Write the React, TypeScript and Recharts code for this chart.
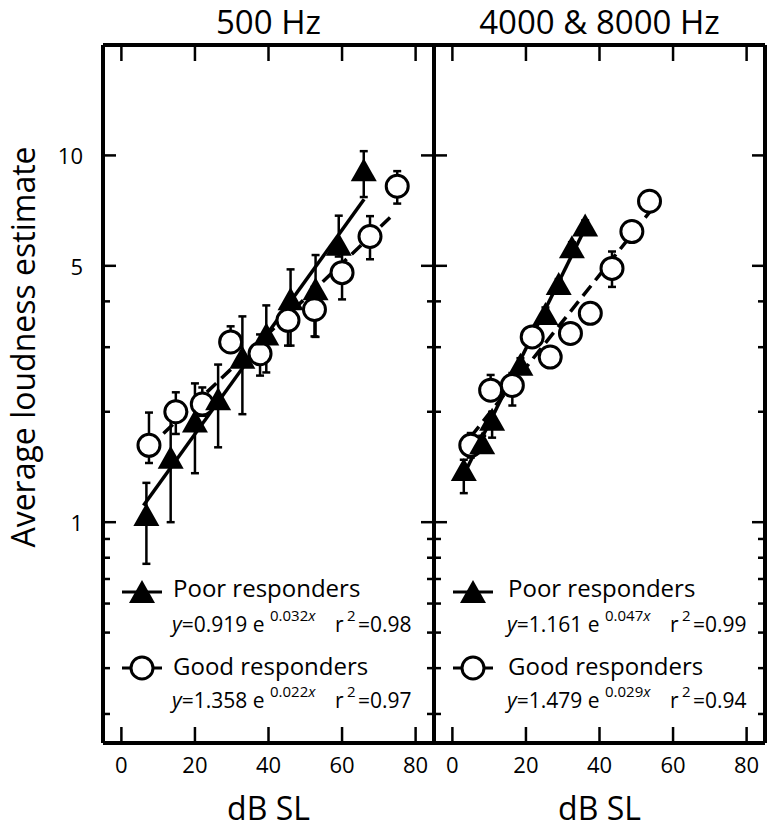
import React from 'react';
import { ComposedChart, ErrorBar, Legend, Line, Scatter, XAxis, YAxis } from 'recharts';

const FONT = "'Open Sans', 'Noto Sans', sans-serif";
const INK = '#000';

// axes
const X_TICKS = [0, 20, 40, 60, 80];
const Y_TICKS = [0.3, 0.4, 0.5, 0.6, 0.7, 0.8, 0.9, 1, 2, 3, 4, 5, 10];
const Y_LABELED = [1, 5, 10];

// 500 Hz — poor responders (filled triangles)
const poor500X = [6.8, 13.4, 20, 26.3, 32.9, 39.4, 46, 52.8, 59.1, 65.9];
const poor500Y = [1.04, 1.49, 1.87, 2.15, 2.79, 3.23, 4.03, 4.29, 5.67, 9.06];
const poor500Lo = [0.77, 1.0, 1.36, 1.6, 1.97, 2.56, 3.03, 3.2, 5.3, 7.7];
const poor500Hi = [1.28, 2.0, 2.39, 2.69, 3.64, 3.9, 4.89, 5.35, 6.85, 10.27];

// 500 Hz — good responders (open circles)
const good500X = [7.5, 14.8, 22, 29.7, 37.7, 45.3, 52.5, 60, 67.6, 75];
const good500Y = [1.62, 2.0, 2.1, 3.1, 2.88, 3.55, 3.8, 4.79, 6.01, 8.24];
const good500Lo = [1.45, 1.74, 1.95, 2.9, 2.51, 3.03, 3.21, 4.05, 5.21, 7.39];
const good500Hi = [1.99, 2.26, 2.33, 3.42, 3.25, 3.75, 4.38, 5.41, 6.83, 9.06];

// 500 Hz fitted lines (end points as drawn)
const fitPoor500X = [6, 66];
const fitPoor500Y = [1.11, 7.59];
const fitGood500X = [7.5, 74];
const fitGood500Y = [1.6, 6.91];

// 4000 & 8000 Hz — poor responders
const poorHighX = [3.1, 8.1, 10.8, 18.5, 25.3, 28.9, 32.5, 36.1];
const poorHighY = [1.38, 1.63, 1.89, 2.67, 3.67, 4.43, 5.58, 6.4];
const poorHighLo = [1.2, 1.55, 1.7, 2.55, 3.5, 4.25, 5.35, 6.15];
const poorHighHi = [1.48, 1.72, 2.0, 2.8, 3.85, 4.6, 5.8, 6.65];

// 4000 & 8000 Hz — good responders
const goodHighX = [5, 10.4, 16.3, 21.7, 26.6, 32.1, 37.5, 43.4, 48.8, 53.6];
const goodHighY = [1.62, 2.29, 2.36, 3.2, 2.82, 3.27, 3.71, 4.92, 6.2, 7.5];
const goodHighLo = [1.5, 2.15, 2.08, 3.0, 2.65, 3.07, 3.5, 4.38, 5.85, 7.1];
const goodHighHi = [1.75, 2.52, 2.55, 3.4, 3.0, 3.47, 3.95, 5.47, 6.55, 7.9];

// 4000 & 8000 Hz fitted lines
const fitPoorHighX = [3, 36];
const fitPoorHighY = [1.34, 6.3];
const fitGoodHighX = [5, 54];
const fitGoodHighY = [1.71, 7.08];

// legend equations: [coefficient, exponent, r²]
const eq500 = [
  ['0.919', '0.032', '0.98'],
  ['1.358', '0.022', '0.97'],
];
const eqHigh = [
  ['1.161', '0.047', '0.99'],
  ['1.479', '0.029', '0.94'],
];

type Pt = { x: number; y: number; err?: [number, number] };

const points = (xs: number[], ys: number[], lo: number[], hi: number[]): Pt[] =>
  xs.map((x, i) => ({ x, y: ys[i], err: [ys[i] - lo[i], hi[i] - ys[i]] }));

const line = (xs: number[], ys: number[]): Pt[] => xs.map((x, i) => ({ x, y: ys[i] }));

const axisLine = { stroke: INK, strokeWidth: 4 };
const tickText = { fontFamily: FONT, fontSize: 22, fill: INK };

/* ---------- ticks (drawn inward, like the original) ---------- */

const XTickBottom = (p: any) => (
  <g>
    <line x1={p.x} x2={p.x} y1={p.y} y2={p.y - 16} stroke={INK} strokeWidth={2.5} />
    <text x={p.x} y={p.y + 21} textAnchor="middle" dominantBaseline="central" {...tickText}>
      {p.payload.value}
    </text>
  </g>
);

const XTickTop = (p: any) => (
  <line x1={p.x} x2={p.x} y1={p.y} y2={p.y + 16} stroke={INK} strokeWidth={2.5} />
);

const tickLen = (v: number) => (Y_LABELED.includes(v) ? 13 : 7);

const YTickLeft = (labels: boolean) => (p: any) => {
  const v = p.payload.value;
  return (
    <g>
      <line x1={p.x} x2={p.x + tickLen(v)} y1={p.y} y2={p.y} stroke={INK} strokeWidth={2.5} />
      {labels && Y_LABELED.includes(v) && (
        <text x={p.x - 20} y={p.y} textAnchor="end" dominantBaseline="central" {...tickText}>
          {v}
        </text>
      )}
    </g>
  );
};

const YTickRight = (p: any) => (
  <line x1={p.x} x2={p.x - tickLen(p.payload.value)} y1={p.y} y2={p.y} stroke={INK} strokeWidth={2.5} />
);

/* ---------- markers ---------- */

const Triangle = ({ cx, cy }: any) => (
  <path d={`M${cx},${cy - 13} L${cx + 13},${cy + 10} L${cx - 13},${cy + 10} Z`} fill={INK} />
);

const Ring = ({ cx, cy }: any) => (
  <circle cx={cx} cy={cy} r={11} fill="#fff" stroke={INK} strokeWidth={3} />
);

const yTitle = () => (
  <text
    x={35}
    y={347}
    transform="rotate(-90 35 347)"
    textAnchor="middle"
    fontFamily={FONT}
    fontSize={32}
    fill={INK}
  >
    Average loudness estimate
  </text>
);

/* ---------- legend (two entries with fitted equations) ---------- */

function Equation({ x, y, eq }: { x: number; y: number; eq: string[] }) {
  const [coef, expo, r2] = eq;
  return (
    <text y={y} fontFamily={FONT} fontSize={21} fill={INK}>
      <tspan x={x} fontStyle="italic">y</tspan>
      <tspan>{`=${coef} e`}</tspan>
      <tspan x={x + 98} y={y - 11} fontSize={15}>{expo}</tspan>
      <tspan fontSize={15} fontStyle="italic">x</tspan>
      <tspan x={x + 163} y={y}>r</tspan>
      <tspan x={x + 175} y={y - 11} fontSize={15}>2</tspan>
      <tspan x={x + 186} y={y}>{`=${r2}`}</tspan>
    </text>
  );
}

function LegendBox({ eqs, textX }: { eqs: string[][]; textX: number }) {
  return (
    <svg width={330} height={160} style={{ display: 'block', overflow: 'visible' }}>
      <line x1={12} x2={52} y1={27} y2={27} stroke={INK} strokeWidth={3} />
      <Triangle cx={32} cy={28} />
      <text x={textX} y={32} fontFamily={FONT} fontSize={24} fill={INK}>
        Poor responders
      </text>
      <Equation x={textX - 1} y={67} eq={eqs[0]} />

      <line x1={12} x2={52} y1={103} y2={103} stroke={INK} strokeWidth={3} />
      <Ring cx={32} cy={103} />
      <text x={textX} y={110} fontFamily={FONT} fontSize={24} fill={INK}>
        Good responders
      </text>
      <Equation x={textX - 1} y={143} eq={eqs[1]} />
    </svg>
  );
}

/* ---------- one panel ---------- */

interface PanelProps {
  left: number;
  width: number;
  leftAxisW: number;
  rightAxisW: number;
  title: string;
  showYLabels: boolean;
  poor: Pt[];
  good: Pt[];
  fitPoor: Pt[];
  fitGood: Pt[];
  eqs: string[][];
  legendLeft: number;
  textX: number;
}

function Panel(props: PanelProps) {
  const { left, width, leftAxisW, rightAxisW, title, showYLabels, poor, good, fitPoor, fitGood, eqs, legendLeft, textX } =
    props;
  return (
    <div style={{ position: 'absolute', left, top: 0 }}>
      <ComposedChart width={width} height={831} margin={{ top: 44, right: 0, bottom: 0, left: 0 }}>
        <XAxis
          dataKey="x"
          type="number"
          domain={[-5, 85]}
          ticks={X_TICKS}
          interval={0}
          allowDataOverflow
          height={88}
          tickSize={0}
          tickMargin={0}
          tickLine={false}
          axisLine={axisLine}
          tick={XTickBottom}
          label={{ value: 'dB SL', position: 'insideBottom', offset: 11, fontFamily: FONT, fontSize: 32, fill: INK }}
        />
        <XAxis
          xAxisId="top"
          orientation="top"
          dataKey="x"
          type="number"
          domain={[-5, 85]}
          ticks={X_TICKS}
          interval={0}
          allowDataOverflow
          height={1}
          tickSize={0}
          tickMargin={0}
          tickLine={false}
          axisLine={axisLine}
          tick={XTickTop}
          label={{ value: title, position: 'top', offset: 10, fontFamily: FONT, fontSize: 33, fill: INK }}
        />
        <YAxis
          type="number"
          scale="log"
          domain={[0.25, 20]}
          ticks={Y_TICKS}
          interval={0}
          allowDataOverflow
          width={leftAxisW}
          tickSize={0}
          tickMargin={0}
          tickLine={false}
          axisLine={axisLine}
          tick={YTickLeft(showYLabels)}
          label={showYLabels ? yTitle : undefined}
        />
        <YAxis
          yAxisId="r"
          orientation="right"
          type="number"
          scale="log"
          domain={[0.25, 20]}
          ticks={Y_TICKS}
          interval={0}
          allowDataOverflow
          width={rightAxisW}
          tickSize={0}
          tickMargin={0}
          tickLine={false}
          axisLine={axisLine}
          tick={YTickRight}
        />

        <Scatter data={good} dataKey="y" shape={Ring} isAnimationActive={false}>
          <ErrorBar dataKey="err" direction="y" width={4} stroke={INK} strokeWidth={2.5} isAnimationActive={false} />
        </Scatter>
        <Scatter data={poor} dataKey="y" shape={Triangle} isAnimationActive={false}>
          <ErrorBar dataKey="err" direction="y" width={4} stroke={INK} strokeWidth={2.5} isAnimationActive={false} />
        </Scatter>

        <Line data={fitPoor} dataKey="y" stroke={INK} strokeWidth={3.5} dot={false} isAnimationActive={false} />
        <Line
          data={fitGood}
          dataKey="y"
          stroke={INK}
          strokeWidth={3.5}
          strokeDasharray="13 7"
          dot={false}
          isAnimationActive={false}
        />

        <Legend
          layout="vertical"
          align="center"
          verticalAlign="middle"
          wrapperStyle={{ left: legendLeft, top: 565, width: 330, height: 160 }}
          content={() => <LegendBox eqs={eqs} textX={textX} />}
        />
      </ComposedChart>
    </div>
  );
}

export default function App() {
  return (
    <div style={{ position: 'absolute', left: 0, top: 0, width: 767, height: 831, background: '#fff' }}>
      <Panel
        left={0}
        width={437}
        leftAxisW={103}
        rightAxisW={3}
        title="500 Hz"
        showYLabels
        poor={points(poor500X, poor500Y, poor500Lo, poor500Hi)}
        good={points(good500X, good500Y, good500Lo, good500Hi)}
        fitPoor={line(fitPoor500X, fitPoor500Y)}
        fitGood={line(fitGood500X, fitGood500Y)}
        eqs={eq500}
        legendLeft={110}
        textX={63}
      />
      <Panel
        left={431}
        width={336}
        leftAxisW={3}
        rightAxisW={2}
        title="4000 & 8000 Hz"
        showYLabels={false}
        poor={points(poorHighX, poorHighY, poorHighLo, poorHighHi)}
        good={points(goodHighX, goodHighY, goodHighLo, goodHighHi)}
        fitPoor={line(fitPoorHighX, fitPoorHighY)}
        fitGood={line(fitGoodHighX, fitGoodHighY)}
        eqs={eqHigh}
        legendLeft={10}
        textX={67}
      />
    </div>
  );
}
